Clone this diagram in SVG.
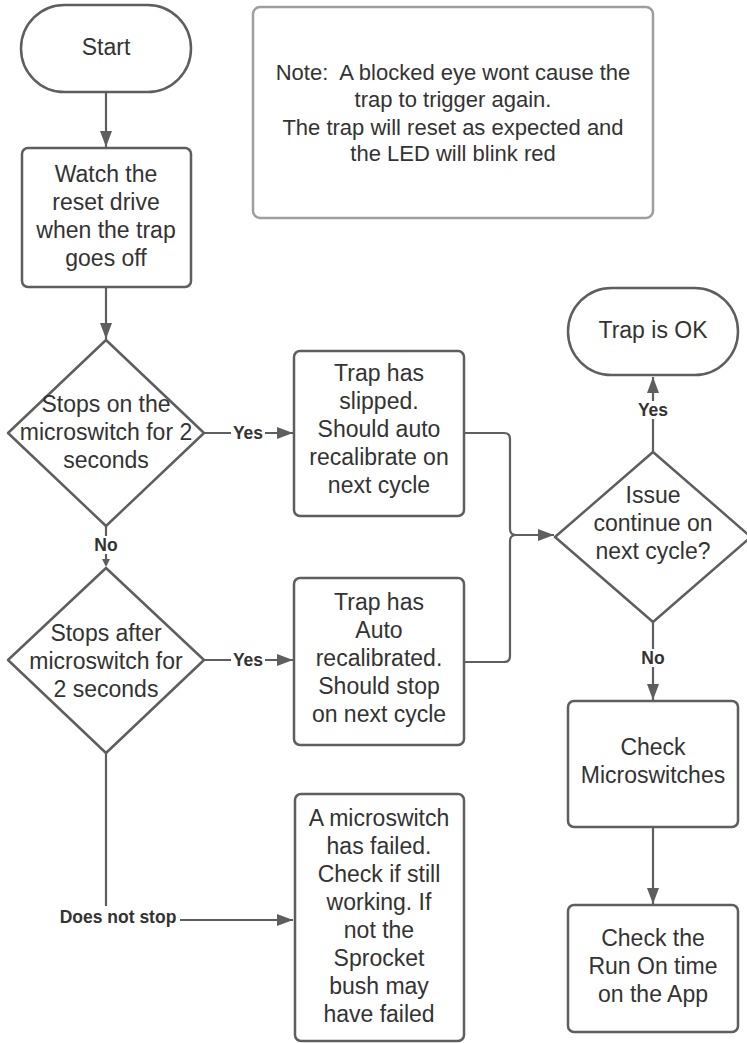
<svg xmlns="http://www.w3.org/2000/svg" width="747" height="1043" viewBox="0 0 747 1043">
<style>
.shape{fill:#fff;stroke:#5e5e5e;stroke-width:2.5}
.note{fill:#fff;stroke:#9e9e9e;stroke-width:2.5}
.t{font-family:"Liberation Sans",Arial,sans-serif;font-size:23px;fill:#333;text-anchor:middle}
.n{font-family:"Liberation Sans",Arial,sans-serif;font-size:22px;fill:#333;text-anchor:middle}
.lbl{font-family:"Liberation Sans",Arial,sans-serif;font-size:17.5px;font-weight:bold;fill:#333;text-anchor:middle}
.conn{fill:none;stroke:#5e5e5e;stroke-width:2.2}
</style>
<defs>
<marker id="ah" markerUnits="userSpaceOnUse" markerWidth="17" markerHeight="13" refX="16" refY="6" orient="auto">
<path d="M0,0 L16,6 L0,12 z" fill="#5e5e5e"/>
</marker>
</defs>
<rect width="747" height="1043" fill="#fff"/>

<g id="connectors">
<path class="conn" d="M106 92 V147" marker-end="url(#ah)"/>
<path class="conn" d="M106 287 V339" marker-end="url(#ah)"/>
<path class="conn" d="M106 526 V560"/>
<polygon points="102,559 110,559 106,567" fill="#5e5e5e"/>
<path class="conn" d="M204 433 H293" marker-end="url(#ah)"/>
<path class="conn" d="M204 660 H293" marker-end="url(#ah)"/>
<path class="conn" d="M106 753 V920 H293" marker-end="url(#ah)"/>
<path class="conn" d="M464 433 H504 Q510 433 510 439 V529 Q510 535 516 535 H554" marker-end="url(#ah)"/>
<path class="conn" d="M464 662 H504 Q510 662 510 656 V541 Q510 535 516 535"/>
<path class="conn" d="M653 452 V377" marker-end="url(#ah)"/>
<path class="conn" d="M653 622 V700" marker-end="url(#ah)"/>
<path class="conn" d="M653 827 V904" marker-end="url(#ah)"/>
</g>

<g id="labels">
<rect x="231" y="424" width="34" height="18" fill="#fff"/>
<text class="lbl" x="248" y="439">Yes</text>
<rect x="231" y="651" width="34" height="18" fill="#fff"/>
<text class="lbl" x="248" y="666">Yes</text>
<rect x="92" y="536" width="30" height="18" fill="#fff"/>
<text class="lbl" x="106" y="551">No</text>
<rect x="636" y="401" width="34" height="18" fill="#fff"/>
<text class="lbl" x="653" y="416">Yes</text>
<rect x="639" y="649" width="28" height="18" fill="#fff"/>
<text class="lbl" x="653" y="664">No</text>
<rect x="56" y="906" width="124" height="20" fill="#fff"/>
<text class="lbl" x="118" y="923">Does not stop</text>
</g>

<g id="start">
<rect class="shape" x="21" y="5" width="170" height="87" rx="43.5"/>
<text class="t" x="106" y="55">Start</text>
</g>

<g id="note">
<rect class="note" x="253" y="7" width="400" height="211" rx="7"/>
<text class="n" x="453" y="80">Note:&#160; A blocked eye wont cause the</text>
<text class="n" x="453" y="107">trap to trigger again.</text>
<text class="n" x="453" y="135">The trap will reset as expected and</text>
<text class="n" x="453" y="161">the LED will blink red</text>
</g>

<g id="watch">
<rect class="shape" x="22" y="148" width="169" height="139" rx="6"/>
<text class="t" x="106" y="182">Watch the</text>
<text class="t" x="106" y="210">reset drive</text>
<text class="t" x="106" y="238">when the trap</text>
<text class="t" x="106" y="266">goes off</text>
</g>

<g id="decision1">
<polygon class="shape" points="106,340 204,433 106,526 8,433" stroke-linejoin="round"/>
<text class="t" x="106" y="412">Stops on the</text>
<text class="t" x="106" y="440">microswitch for 2</text>
<text class="t" x="106" y="468">seconds</text>
</g>

<g id="decision2">
<polygon class="shape" points="106,568 204,660 106,753 8,660" stroke-linejoin="round"/>
<text class="t" x="106" y="641">Stops after</text>
<text class="t" x="106" y="669">microswitch for</text>
<text class="t" x="106" y="697">2 seconds</text>
</g>

<g id="slipped">
<rect class="shape" x="294" y="351" width="170" height="165" rx="6"/>
<text class="t" x="379" y="381">Trap has</text>
<text class="t" x="379" y="409">slipped.</text>
<text class="t" x="379" y="437">Should auto</text>
<text class="t" x="379" y="465">recalibrate on</text>
<text class="t" x="379" y="493">next cycle</text>
</g>

<g id="recalibrated">
<rect class="shape" x="294" y="578" width="170" height="167" rx="6"/>
<text class="t" x="379" y="610">Trap has</text>
<text class="t" x="379" y="638">Auto</text>
<text class="t" x="379" y="666">recalibrated.</text>
<text class="t" x="379" y="694">Should stop</text>
<text class="t" x="379" y="722">on next cycle</text>
</g>

<g id="failed">
<rect class="shape" x="295" y="794" width="169" height="247" rx="6"/>
<text class="t" x="379" y="826">A microswitch</text>
<text class="t" x="379" y="854">has failed.</text>
<text class="t" x="379" y="882">Check if still</text>
<text class="t" x="379" y="910">working. If</text>
<text class="t" x="379" y="938">not the</text>
<text class="t" x="379" y="966">Sprocket</text>
<text class="t" x="379" y="994">bush may</text>
<text class="t" x="379" y="1022">have failed</text>
</g>

<g id="trapok">
<rect class="shape" x="568" y="288" width="170" height="87" rx="43.5"/>
<text class="t" x="653" y="338">Trap is OK</text>
</g>

<g id="decision3">
<polygon class="shape" points="653,452 751,537 653,622 555,537" stroke-linejoin="round"/>
<text class="t" x="653" y="503">Issue</text>
<text class="t" x="653" y="531">continue on</text>
<text class="t" x="653" y="559">next cycle?</text>
</g>

<g id="checkmicro">
<rect class="shape" x="568" y="701" width="170" height="126" rx="6"/>
<text class="t" x="653" y="755">Check</text>
<text class="t" x="653" y="783">Microswitches</text>
</g>

<g id="checkrun">
<rect class="shape" x="568" y="905" width="170" height="127" rx="6"/>
<text class="t" x="653" y="946">Check the</text>
<text class="t" x="653" y="974">Run On time</text>
<text class="t" x="653" y="1002">on the App</text>
</g>
</svg>
